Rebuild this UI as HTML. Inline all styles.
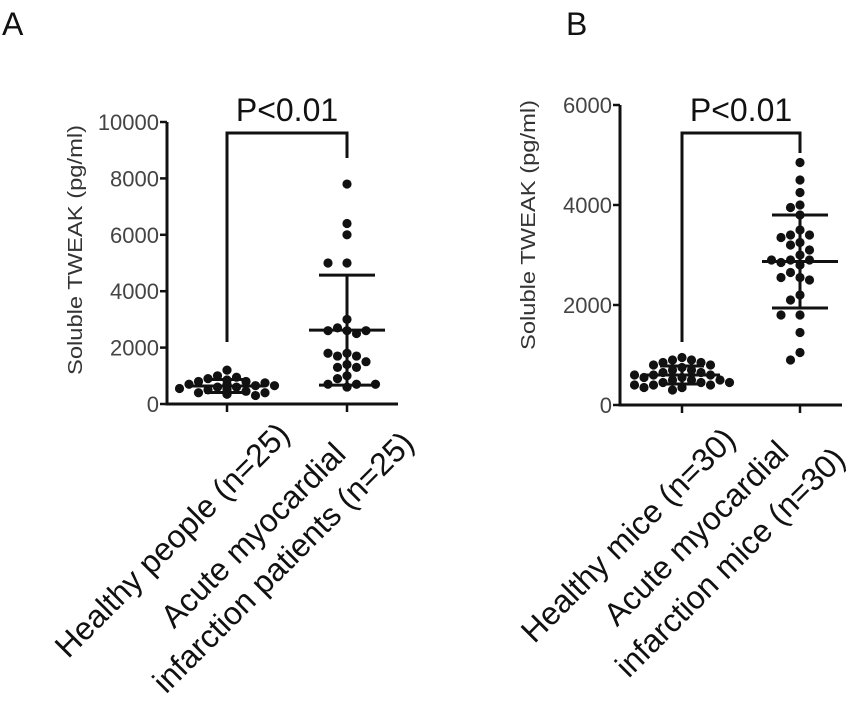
<!DOCTYPE html>
<html><head><meta charset="utf-8">
<style>
html,body{margin:0;padding:0;background:#fff;}
svg{display:block;font-family:"Liberation Sans",Arial,sans-serif;}
</style></head>
<body>
<svg id="chart" width="865" height="707" viewBox="0 0 865 707" xmlns="http://www.w3.org/2000/svg">
<text x="2" y="35" font-size="32" fill="#111">A</text>
<text x="566" y="35" font-size="32" fill="#111">B</text>
<g id="pa"></g>
<g id="pb"></g>
</svg>
<script>
// Panel A data
const aTicks = [0, 2000, 4000, 6000, 8000, 10000];
const aHealthy = [1200, 1000, 950, 900, 850, 800, 800, 750, 700, 700, 650, 650, 600, 600, 550, 550, 500, 500, 450, 450, 400, 400, 350, 350, 300];
const aAMI = [7800, 6400, 6000, 5000, 5000, 3000, 2700, 2600, 2600, 2600, 2500, 1800, 1800, 1700, 1700, 1500, 1400, 1300, 1300, 1000, 900, 700, 700, 700, 600];
const aMean = [640, 2620];
const aSD = [230, 1950];
// Panel B data
const bTicks = [0, 2000, 4000, 6000];
const bHealthy = [950, 900, 900, 850, 850, 800, 800, 750, 700, 700, 650, 650, 600, 600, 600, 550, 550, 500, 500, 500, 450, 450, 450, 400, 400, 400, 350, 350, 350, 300];
const bAMI = [4850, 4500, 4250, 4000, 3950, 3800, 3500, 3400, 3400, 3350, 3250, 3200, 3100, 3000, 2900, 2900, 2900, 2850, 2800, 2650, 2550, 2550, 2500, 2200, 2100, 1800, 1800, 1450, 1050, 900];
const bMean = [600, 2870];
const bSD = [180, 930];

const NS = "http://www.w3.org/2000/svg";
function mk(parent, tag, attrs){const e=document.createElementNS(NS,tag);for(const k in attrs)e.setAttribute(k,attrs[k]);parent.appendChild(e);return e;}

function panel(g, cfg){
  const yS = v => cfg.y0 - (v/cfg.max)*(cfg.y0-cfg.yTop);
  let ax = mk(g,'line',{x1:cfg.ax,y1:cfg.yTop,x2:cfg.ax,y2:cfg.y0+1.5,stroke:'#111','stroke-width':3});
  
  
  let xa = mk(g,'line',{x1:cfg.ax-1.5,y1:cfg.y0,x2:cfg.axEnd,y2:cfg.y0,stroke:'#111','stroke-width':3});
  
  
  cfg.ticks.forEach(t=>{
    const y=yS(t);
    const l=mk(g,'line',{x1:cfg.ax-7,y1:y,x2:cfg.ax,y2:y,stroke:'#111','stroke-width':2.5});
    
    
    const tx=mk(g,'text',{x:cfg.ax-8,y:y+8,'font-size':22,'text-anchor':'end',fill:'#444'});
    tx.textContent=t;
    
    
  });
  cfg.cats.forEach(cx=>{
    const l=mk(g,'line',{x1:cx,y1:cfg.y0,x2:cx,y2:cfg.y0+8,stroke:'#111','stroke-width':2.5});
    
    
  });
  const yt=mk(g,'text',{x:0,y:0,'font-size':20,'text-anchor':'middle',fill:'#333',textLength:250,lengthAdjust:'spacingAndGlyphs',transform:`translate(${cfg.titleX},${cfg.titleY}) rotate(-90)`});
  yt.textContent='Soluble TWEAK (pg/ml)';
  
  
  const r=4.6, d=9.5;
  [cfg.g1,cfg.g2].forEach((vals,gi)=>{
    const cx=cfg.cats[gi]; const placed=[];
    vals.forEach(v=>{
      const y=yS(v); let x=cx;
      const offs=[0,-1,1,-2,2,-3,3,-4,4,-5,5];
      for(const o of offs){const tx=cx+o*d; if(!placed.some(p=>Math.hypot(p[0]-tx,p[1]-y)<2*r+0.5)){x=tx;break;}}
      placed.push([x,y]);
      const c=mk(g,'circle',{cx:x,cy:y,r:r,fill:'#111'});
      
      
    });
    const m=cfg.mean[gi], s=cfg.sd[gi];
    const ml=mk(g,'line',{x1:cx-38,y1:yS(m),x2:cx+38,y2:yS(m),stroke:'#111','stroke-width':3});
    
    
    const vl=mk(g,'line',{x1:cx,y1:yS(m+s),x2:cx,y2:yS(Math.max(m-s,0)),stroke:'#111','stroke-width':3});
    
    
    [m+s,m-s].forEach(e=>{
      const w = gi===0?22:28;
      const el=mk(g,'line',{x1:cx-w,y1:yS(e),x2:cx+w,y2:yS(e),stroke:'#111','stroke-width':3});
      
      
    });
  });
  const br=mk(g,'path',{d:`M${cfg.cats[0]},${cfg.brL} V${cfg.brTop} H${cfg.cats[1]} V${cfg.brR}`,fill:'none',stroke:'#111','stroke-width':3});
  
  
  const pt=mk(g,'text',{x:(cfg.cats[0]+cfg.cats[1])/2,y:cfg.brTop-12,'font-size':32,'text-anchor':'middle',fill:'#111'});
  pt.textContent='P<0.01';
  
  
  cfg.labels.forEach(lb=>{
    lb.lines.forEach(ln=>{
      const tt=mk(g,'text',{x:0,y:0,'font-size':32,'text-anchor':'middle','dominant-baseline':'central',fill:'#111',transform:`translate(${ln.x},${ln.y}) rotate(-45)`});
      
      
      tt.textContent=ln.t;
    });
  });
}

panel(document.getElementById('pa'),{
  ax:167, axEnd:398, y0:404, yTop:122, max:10000, ticks:aTicks, cats:[227,347],
  g1:aHealthy, g2:aAMI, mean:aMean, sd:aSD, titleX:82, titleY:250,
  brTop:133, brL:342, brR:158,
  labels:[
    {lines:[{t:'Healthy people (n=25)',x:172,y:540}]},
    {lines:[{t:'Acute myocardial',x:253,y:535},{t:'infarction patients (n=25)',x:283,y:562}]}
  ]
});
panel(document.getElementById('pb'),{
  ax:620, axEnd:842, y0:405, yTop:105, max:6000, ticks:bTicks, cats:[682,800],
  g1:bHealthy, g2:bAMI, mean:bMean, sd:bSD, titleX:535, titleY:225,
  brTop:133, brL:342, brR:153,
  labels:[
    {lines:[{t:'Healthy mice (n=30)',x:628,y:535}]},
    {lines:[{t:'Acute myocardial',x:696,y:533},{t:'infarction mice (n=30)',x:730,y:562}]}
  ]
});
</script>
</body></html>
